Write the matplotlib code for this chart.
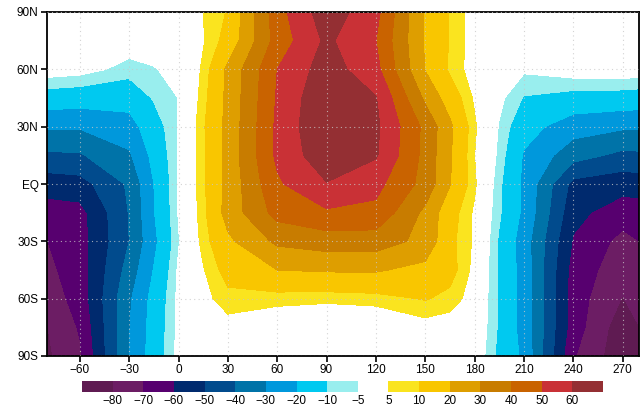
import numpy as np
import matplotlib
matplotlib.use("Agg")
import matplotlib.pyplot as plt

plt.rcParams['font.family'] = ['Liberation Sans', 'DejaVu Sans']

# ---- data, rows = latitudes ----
lats = [90, 75, 60, 45, 30, 15, 0, -15, -30, -45, -60, -75, -90]
lon_0   = [0, -1, -2.5, -4.9, -4.7, -4.5, -4.5, -4.5, -5.5, -4, -3.5, -3.5, -3]
lon_15  = [5, 4.5, 6, 7.5, 9, 8.8, 8.5, 8, 7, 4.5, 3, 0, -1]
lon_30  = [10.5, 13, 22, 22.5, 23, 23.5, 23, 24, 18, 13, 8, 2.4, 0]
lon_60  = [46, 44, 50, 51, 52, 52, 48.5, 43.5, 32, 20, 7, -0.5, 0]
lon_90  = [66, 62, 65, 69, 70, 67, 59.5, 48.5, 35, 21, 6.5, -2.5, 0.5]
lon_120 = [53, 50, 53, 60.5, 62, 61, 53, 47.5, 35, 21, 7.5, -2.2, 0.5]
lon_150 = [18.5, 19, 19.5, 28, 37.5, 37, 36.5, 27.6, 27, 17, 10.5, 2.25, 1]
lon_165 = [9.5, 9.5, 8.8, 15, 22, 21, 20.5, 13.5, 12, 13, 8, 1.5, 1]
lon_180 = [2, 2, 2, 4, 6, 5, 6, 4, 4, 3, 2, 1, 0]
lon_195 = [0, 0, -1.5, -3.5, -5.5, -6.5, -8.5, -9, -11, -11, -11, -11, -12]
lon_210 = [-0.5, -1, -4, -10.5, -16, -21, -22, -22, -25, -24, -24, -24, -22]
lon_240 = [-0.5, -0.5, -1.5, -13, -25.5, -36, -53, -57, -61, -64, -65, -65, -69]
lon_270 = [0, -0.5, -1, -13.5, -28.5, -42.5, -56, -65.5, -73, -76, -80.5, -86, -87]
lon_300 = [0, -1, -2.5, -15, -29, -41, -54, -63.5, -64.5, -65, -66, -69, -71.5]
lon_330 = [-0.5, -1.5, -7.2, -16, -24, -31.5, -38.5, -39.5, -40, -36, -31.5, -30.5, -30]
lon_345 = [0, -1, -5.5, -9.3, -14, -17, -20, -20.5, -22.5, -19.5, -16.5, -15.5, -15]

columns = {0: lon_0, 15: lon_15, 30: lon_30, 60: lon_60, 90: lon_90,
           120: lon_120, 150: lon_150, 165: lon_165, 180: lon_180,
           195: lon_195, 210: lon_210, 240: lon_240, 270: lon_270,
           300: lon_300, 330: lon_330, 345: lon_345}

# periodic field shown from -80 to 280
lon_plot = [-90, -60, -30, -15, 0, 15, 30, 60, 90, 120, 150, 165, 180,
            195, 210, 240, 270, 300]
Z = np.array([columns[l % 360] for l in lon_plot]).T

levels = [-80, -70, -60, -50, -40, -30, -20, -10, -5, 5, 10, 20, 30, 40, 50, 60]
colors = ['#5f1b52', '#6c1d64', '#57006f', '#002a6e', '#014b8d', '#0073a8',
          '#0098dc', '#00c9f0', '#99eeee', '#ffffff', '#fae41f', '#f9c600',
          '#de9e00', '#c87c00', '#c96300', '#c93136', '#942f33']

xticks = [-60, -30, 0, 30, 60, 90, 120, 150, 180, 210, 240, 270]
xticklabels = ['\u221260', '\u221230', '0', '30', '60', '90', '120', '150',
               '180', '210', '240', '270']
yticks = [-90, -60, -30, 0, 30, 60, 90]
yticklabels = ['90S', '60S', '30S', 'EQ', '30N', '60N', '90N']
cbar_labels = ['\u221280', '\u221270', '\u221260', '\u221250', '\u221240',
               '\u221230', '\u221220', '\u221210', '\u22125', '5', '10', '20',
               '30', '40', '50', '60']

W, H = 641, 407
fig = plt.figure(figsize=(W / 100, H / 100), dpi=100)
ax = fig.add_axes([47 / W, (H - 356) / H, 592 / W, 344 / H])

cf = ax.contourf(lon_plot, lats, Z, levels=levels, colors=colors, extend='both')

ax.set_xlim(-80, 280)
ax.set_ylim(-90, 90)
ax.set_xticks(xticks)
ax.set_xticklabels(xticklabels)
ax.set_yticks(yticks)
ax.set_yticklabels(yticklabels)
ax.tick_params(direction='out', length=4, width=1.2, labelsize=8.5, pad=2,
               top=False, right=False)
for s in ax.spines.values():
    s.set_linewidth(1.3)
ax.grid(True, color='#c8c8c8', linestyle=(0, (1, 3)), linewidth=0.8, alpha=0.8)
ax.set_axisbelow(False)
for gl in ax.get_xgridlines() + ax.get_ygridlines():
    gl.set_zorder(3)

cax = fig.add_axes([82 / W, (H - 392) / H, 521 / W, 11 / H])
cb = fig.colorbar(cf, cax=cax, orientation='horizontal', extend='both',
                  extendrect=True, extendfrac=1 / 15, spacing='uniform',
                  drawedges=False)
cb.outline.set_visible(False)
cb.set_ticks(levels)
cb.set_ticklabels(cbar_labels)
cax.tick_params(length=0, labelsize=8.5, pad=2)

fig.savefig('out.png', dpi=100)
